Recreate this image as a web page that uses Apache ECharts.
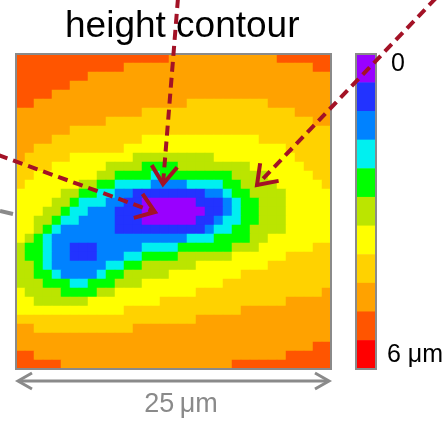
<!DOCTYPE html>
<html>
<head>
<meta charset="utf-8">
<script src="https://cdn.jsdelivr.net/npm/echarts@6/dist/echarts.min.js"></script>
<style>
html,body{margin:0;padding:0;background:#fff;}
#chart{width:446px;height:423px;}
</style>
</head>
<body>
<div id="chart"></div>
<script>
// Height band of each cell (0 = deepest / 0 µm ... 10 = 6 µm).
// 35 columns x 35 rows, row 0 at the top; spaces only group digits for reading.
const heightBands = [
  "99999 99999 99999 99888 88888 88889 99999",
  "99999 99999 99888 88888 88888 88888 88899",
  "99999 99988 88888 88888 88888 88888 88888",
  "99999 98888 88888 88888 88888 88888 88888",
  "99998 88888 88888 88888 88888 88888 88888",
  "99888 88888 88888 88887 77777 77788 88888",
  "88888 88888 88887 77777 77777 77777 78888",
  "88888 88888 77777 77777 77777 77777 77788",
  "88888 87777 77777 77777 77777 77777 77777",
  "88887 77777 77776 66666 66666 66777 77777",
  "88777 77777 77666 66666 66666 66666 77777",
  "87777 76666 66655 55555 55666 66666 67777",
  "77776 66666 55554 44455 55555 56666 66777",
  "77666 66665 54444 34444 44445 55566 66677",
  "76666 66554 43333 22223 33344 55556 66667",
  "66666 55443 32211 11111 12234 45555 66666",
  "66665 54333 22110 00000 11123 44555 66666",
  "66655 43322 21110 00000 01123 44555 66666",
  "66554 33222 21110 00000 11233 44555 66666",
  "66543 22222 21111 11111 12334 45555 66666",
  "65432 22222 22222 22223 33444 45566 66666",
  "54432 21112 22223 33344 44445 55666 66677",
  "54432 21112 22334 44455 55556 66666 77777",
  "55432 22222 33445 55555 66666 66677 77777",
  "55443 22223 44555 55666 66666 77777 77777",
  "55544 43344 45556 66666 66677 77777 77777",
  "65555 44445 56666 66666 77777 77777 77778",
  "66555 55566 66666 67777 77777 77777 88888",
  "66666 66666 66777 77777 77777 88888 88888",
  "77777 77777 77777 77777 88888 88888 88888",
  "88777 77777 77788 88888 88888 88888 88888",
  "88888 88888 88888 88888 88888 88888 88888",
  "88888 88888 88888 88888 88888 88888 88899",
  "99888 88888 88888 88888 88888 88888 99999",
  "99999 88888 88888 88888 88889 99999 99999"
];
// Colour of each height band, 0 (top of colour bar) to 10 (bottom).
const bandColors = ["#9900ff","#2233ff","#0082ff","#00f0f0","#00ff00","#bbe500",
                    "#ffff00","#ffd200","#ffa200","#ff5500","#ff0000"];
const colorbarLevels = [0,1,2,3,4,5,6,7,8,9,10];
const colorbarTickLabels = {0: "0", 10: "6 μm"};
const titleText = "height contour";
const scaleText = "25\u2009μm";

const FONT = "'Liberation Sans', Arial, Helvetica, sans-serif";
const rows = heightBands.map(r => r.replace(/ /g, "").split("").map(Number));
const nRows = rows.length, nCols = rows[0].length;
const fieldData = [];
rows.forEach((r, j) => r.forEach((v, i) => fieldData.push([i, j, v])));
const barData = colorbarLevels.map((v, k) => [0, k, v]);

const RED = "#a31226", GRAY = "#8a8a8a";
function arrow(x1, y1, x2, y2) {
  const a = Math.atan2(y2 - y1, x2 - x1), L = 22, h = 0.62;
  return [
    {type: "line", z: 200, shape: {x1, y1, x2, y2},
     style: {stroke: RED, lineWidth: 4, lineDash: [10, 6]}},
    {type: "polyline", z: 200,
     shape: {points: [[x2 - L * Math.cos(a - h), y2 - L * Math.sin(a - h)], [x2, y2],
                      [x2 - L * Math.cos(a + h), y2 - L * Math.sin(a + h)]]},
     style: {stroke: RED, lineWidth: 4, fill: "none"}}
  ];
}

const chart = echarts.init(document.getElementById("chart"), null, {renderer: "canvas"});
chart.setOption({
  animation: false,
  backgroundColor: "#fff",
  title: {text: titleText, left: 60, top: 3,
          textStyle: {fontSize: 37, fontWeight: "normal", color: "#000", fontFamily: FONT}},
  grid: [
    {left: 16, top: 54, width: 315, height: 315},
    {left: 356, top: 54, width: 20, height: 315}
  ],
  xAxis: [
    {type: "category", gridIndex: 0, data: Array.from({length: nCols}, (_, i) => i), show: false},
    {type: "category", gridIndex: 1, data: [0], show: false}
  ],
  yAxis: [
    {type: "category", gridIndex: 0, data: Array.from({length: nRows}, (_, i) => i), inverse: true, show: false},
    {type: "category", gridIndex: 1, data: colorbarLevels, inverse: true, position: "right",
     axisLine: {show: false}, axisTick: {show: false}, splitLine: {show: false},
     axisLabel: {interval: 0, margin: 12, color: "#000", fontSize: 25, fontFamily: FONT,
                 rich: {top: {fontSize: 25, fontFamily: FONT, color: "#000", padding: [0, 0, 8, 4]}},
                 formatter: (v, i) => i === 0 ? "{top|" + colorbarTickLabels[0] + "}"
                                      : (colorbarTickLabels[i] !== undefined ? colorbarTickLabels[i] : "")}}
  ],
  visualMap: {type: "piecewise", show: false, dimension: 2,
              pieces: bandColors.map((c, i) => ({value: i, color: c}))},
  series: [
    {type: "heatmap", xAxisIndex: 0, yAxisIndex: 0, data: fieldData,
     itemStyle: {borderWidth: 0}, emphasis: {disabled: true}, progressive: 0},
    {type: "heatmap", xAxisIndex: 1, yAxisIndex: 1, data: barData,
     itemStyle: {borderWidth: 0}, emphasis: {disabled: true}}
  ],
  graphic: [
    {type: "rect", z: 100, shape: {x: 16, y: 54, width: 315, height: 315},
     style: {fill: "none", stroke: GRAY, lineWidth: 2}},
    {type: "rect", z: 100, shape: {x: 356, y: 54, width: 20, height: 315},
     style: {fill: "none", stroke: GRAY, lineWidth: 2}},
    {type: "line", z: 100, shape: {x1: 19, y1: 381, x2: 328, y2: 381},
     style: {stroke: GRAY, lineWidth: 3}},
    {type: "polyline", z: 100, shape: {points: [[32, 373], [18, 381], [32, 389]]},
     style: {stroke: GRAY, lineWidth: 3, fill: "none"}},
    {type: "polyline", z: 100, shape: {points: [[315, 373], [329, 381], [315, 389]]},
     style: {stroke: GRAY, lineWidth: 3, fill: "none"}},
    {type: "text", z: 100, x: 181, y: 405,
     style: {text: scaleText, fill: GRAY, font: "27px " + FONT, textAlign: "center", textVerticalAlign: "middle"}},
    {type: "line", z: 100, shape: {x1: 0, y1: 211, x2: 13, y2: 214},
     style: {stroke: GRAY, lineWidth: 4}},
    ...arrow(178, -2, 163, 184),
    ...arrow(-2, 155, 155, 212),
    ...arrow(436, -2, 257, 185)
  ]
});
</script>
</body>
</html>
